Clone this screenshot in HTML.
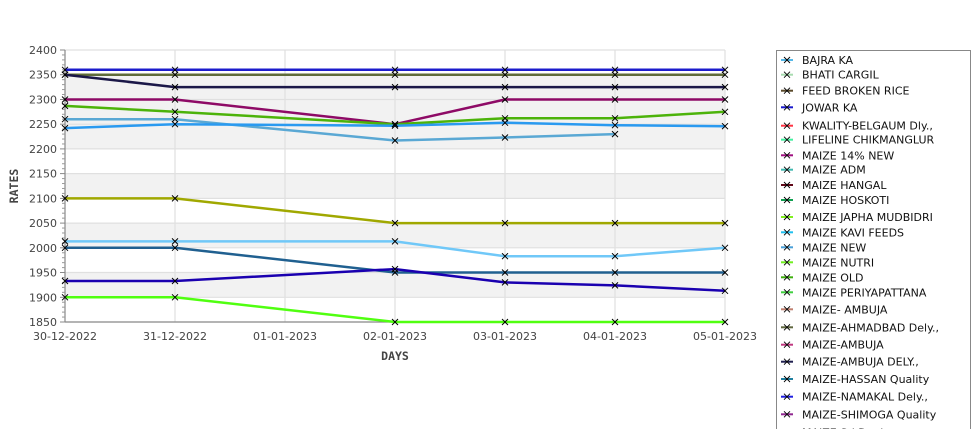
<!DOCTYPE html>
<html><head><meta charset="utf-8"><style>
html,body{margin:0;padding:0;background:#fff;width:975px;height:429px;overflow:hidden;}
svg{display:block;overflow:hidden;}
text{font-family:"DejaVu Sans","Liberation Sans",sans-serif;}
</style></head><body>
<svg width="975" height="429" viewBox="0 0 975 429" xmlns="http://www.w3.org/2000/svg">
<defs><clipPath id="cp"><rect x="0" y="0" width="975" height="429"/></clipPath></defs>
<g clip-path="url(#cp)">
<rect x="0" y="0" width="975" height="429" fill="#fff"/>
<!-- bands -->
<g fill="#f2f2f2">
<rect x="65" y="74.7" width="660" height="74.2"/>
<rect x="65" y="173.6" width="660" height="24.7"/>
<rect x="65" y="223.1" width="660" height="24.7"/>
<rect x="65" y="272.5" width="660" height="24.7"/>
</g>
<!-- gridlines -->
<g stroke="#e0e0e0" stroke-width="1.2">
<line x1="65" y1="50" x2="725" y2="50"/>
<line x1="65" y1="74.7" x2="725" y2="74.7"/>
<line x1="65" y1="99.5" x2="725" y2="99.5"/>
<line x1="65" y1="124.2" x2="725" y2="124.2"/>
<line x1="65" y1="148.9" x2="725" y2="148.9"/>
<line x1="65" y1="173.6" x2="725" y2="173.6"/>
<line x1="65" y1="198.4" x2="725" y2="198.4"/>
<line x1="65" y1="223.1" x2="725" y2="223.1"/>
<line x1="65" y1="247.8" x2="725" y2="247.8"/>
<line x1="65" y1="272.5" x2="725" y2="272.5"/>
<line x1="65" y1="297.3" x2="725" y2="297.3"/>
<line x1="175" y1="50" x2="175" y2="322"/>
<line x1="285" y1="50" x2="285" y2="322"/>
<line x1="395" y1="50" x2="395" y2="322"/>
<line x1="505" y1="50" x2="505" y2="322"/>
<line x1="615" y1="50" x2="615" y2="322"/>
<line x1="725" y1="50" x2="725" y2="322"/>
</g>
<!-- axes -->
<g stroke="#888" stroke-width="1.2">
<line x1="65" y1="50" x2="65" y2="322.5"/>
<line x1="65" y1="322" x2="725" y2="322"/>
</g>
<g stroke="#888" stroke-width="1">
<line x1="60" y1="50" x2="65" y2="50"/><line x1="60" y1="74.7" x2="65" y2="74.7"/><line x1="60" y1="99.5" x2="65" y2="99.5"/><line x1="60" y1="124.2" x2="65" y2="124.2"/><line x1="60" y1="148.9" x2="65" y2="148.9"/><line x1="60" y1="173.6" x2="65" y2="173.6"/><line x1="60" y1="198.4" x2="65" y2="198.4"/><line x1="60" y1="223.1" x2="65" y2="223.1"/><line x1="60" y1="247.8" x2="65" y2="247.8"/><line x1="60" y1="272.5" x2="65" y2="272.5"/><line x1="60" y1="297.3" x2="65" y2="297.3"/><line x1="60" y1="322" x2="65" y2="322"/>
</g>
<g stroke="#999" stroke-width="1" id="minor">
</g>
<!-- y labels -->
<g font-size="11" fill="#444" text-anchor="end">
<text x="57" y="54">2400</text>
<text x="57" y="78.7">2350</text>
<text x="57" y="103.5">2300</text>
<text x="57" y="128.2">2250</text>
<text x="57" y="152.9">2200</text>
<text x="57" y="177.6">2150</text>
<text x="57" y="202.4">2100</text>
<text x="57" y="227.1">2050</text>
<text x="57" y="251.8">2000</text>
<text x="57" y="276.5">1950</text>
<text x="57" y="301.3">1900</text>
<text x="57" y="326">1850</text>
</g>
<!-- x labels -->
<g font-size="11" fill="#444" text-anchor="middle">
<text x="65" y="340">30-12-2022</text>
<text x="175" y="340">31-12-2022</text>
<text x="285" y="340">01-01-2023</text>
<text x="395" y="340">02-01-2023</text>
<text x="505" y="340">03-01-2023</text>
<text x="615" y="340">04-01-2023</text>
<text x="725" y="340">05-01-2023</text>
</g>
<text x="395" y="360" font-size="11.5" font-weight="bold" fill="#444" text-anchor="middle" style="font-family:'DejaVu Sans Mono',monospace">DAYS</text>
<text transform="translate(18,186) rotate(-90)" font-size="11.5" font-weight="bold" fill="#444" text-anchor="middle" style="font-family:'DejaVu Sans Mono',monospace">RATES</text>
<!-- series -->
<g fill="none" stroke-width="2.5" stroke-linejoin="round">
<polyline stroke="#1c1ccc" points="65,69.8 175,69.8 395,69.8 505,69.8 615,69.8 725,69.8"/>
<polyline stroke="#5f6b3a" points="65,74.7 175,74.7 395,74.7 505,74.7 615,74.7 725,74.7"/>
<polyline stroke="#1b1848" points="65,74.7 175,87.1 395,87.1 505,87.1 615,87.1 725,87.1"/>
<polyline stroke="#8e0a66" points="65,99.5 175,99.5 395,124.2 505,99.5 615,99.5 725,99.5"/>
<polyline stroke="#4cb30a" points="65,105.9 175,111.8 395,124.2 505,118.3 615,118.3 725,111.8"/>
<polyline stroke="#5aa8d4" points="65,119.2 175,119.2 395,140.5 505,137.5 615,134.1"/>
<polyline stroke="#2a9af0" points="65,128.1 175,124.2 395,125.7 505,122.7 615,125.2 725,126.2"/>
<polyline stroke="#a0a800" points="65,198.4 175,198.4 395,223.1 505,223.1 615,223.1 725,223.1"/>
<polyline stroke="#70c8f8" points="65,241.4 175,241.4 395,241.4 505,256.2 615,256.2 725,247.8"/>
<polyline stroke="#206090" points="65,247.8 175,247.8 395,272.5 505,272.5 615,272.5 725,272.5"/>
<polyline stroke="#1a00b0" points="65,281 175,281 395,269.1 505,282.4 615,285.4 725,290.8"/>
<polyline stroke="#50ff10" points="65,297.3 175,297.3 395,322 505,322 615,322 725,322"/>
</g>
<!-- markers -->
<g stroke="#000" stroke-width="1" id="mk"></g>
<!-- legend -->
<rect x="776.5" y="50.5" width="194" height="380" fill="#fff" stroke="#888" stroke-width="1"/>
<g id="leg"></g>
</g>
<script>
(function(){
var ns="http://www.w3.org/2000/svg";
var minor=document.getElementById("minor");
var k=272/550;
for(var v=1850;v<=2400;v+=10){ if(v%50===0) continue;
 var y=50+(2400-v)*k; var l=document.createElementNS(ns,"line");
 l.setAttribute("x1",62);l.setAttribute("x2",65);l.setAttribute("y1",y);l.setAttribute("y2",y);minor.appendChild(l);}
var mk=document.getElementById("mk");
function X(x,y){[[-3,-3,3,3],[-3,3,3,-3]].forEach(function(d){var l=document.createElementNS(ns,"line");
 l.setAttribute("x1",x+d[0]);l.setAttribute("y1",y+d[1]);l.setAttribute("x2",x+d[2]);l.setAttribute("y2",y+d[3]);mk.appendChild(l);});}
var pls=document.querySelectorAll("polyline");
pls.forEach(function(p){p.getAttribute("points").trim().split(/\s+/).forEach(function(s){var a=s.split(",");X(+a[0],+a[1]);});});
var items=[["BAJRA KA","#55b8e8",60],["BHATI CARGIL","#a8dcb0",74.7],["FEED BROKEN RICE","#5a4a2a",90.7],["JOWAR KA","#1a1acc",107.3],
["KWALITY-BELGAUM Dly.,","#ff3344",125.7],["LIFELINE CHIKMANGLUR","#44f0a0",139.7],["MAIZE 14% NEW","#a01080",155.3],["MAIZE ADM","#40b8b0",169.7],
["MAIZE HANGAL","#600818",185],["MAIZE HOSKOTI","#10a050",200],["MAIZE JAPHA MUDBIDRI","#80f020",217],["MAIZE KAVI FEEDS","#20c0f0",232.3],
["MAIZE NEW","#4aa0d8",247.3],["MAIZE NUTRI","#70f020",262.3],["MAIZE OLD","#40b010",277.3],["MAIZE PERIYAPATTANA","#40d040",292.3],
["MAIZE- AMBUJA","#c08070",309.3],["MAIZE-AHMADBAD Dely.,","#606840",327.3],["MAIZE-AMBUJA","#c03880",344.7],["MAIZE-AMBUJA DELY.,","#202050",361.7],
["MAIZE-HASSAN Quality","#2080a0",379],["MAIZE-NAMAKAL Dely.,","#2020e0",396.7],["MAIZE-SHIMOGA Quality","#902890",414.3],["MAIZE Sri Dealers","#40a0a0",432.5]];
var g=document.getElementById("leg");
items.forEach(function(it){var y=it[2];
 var l=document.createElementNS(ns,"line");l.setAttribute("x1",781);l.setAttribute("x2",793);l.setAttribute("y1",y);l.setAttribute("y2",y);
 l.setAttribute("stroke",it[1]);l.setAttribute("stroke-width",2);g.appendChild(l);
 [[-3,-3,3,3],[-3,3,3,-3]].forEach(function(d){var m=document.createElementNS(ns,"line");
 m.setAttribute("x1",787+d[0]);m.setAttribute("y1",y+d[1]);m.setAttribute("x2",787+d[2]);m.setAttribute("y2",y+d[3]);m.setAttribute("stroke","#000");m.setAttribute("stroke-width",0.9);g.appendChild(m);});
 var t=document.createElementNS(ns,"text");t.setAttribute("x",802);t.setAttribute("y",y+4);t.setAttribute("font-size",11);t.setAttribute("fill","#111");
 t.textContent=it[0];g.appendChild(t);});
})();
</script>
</svg>
</body></html>
